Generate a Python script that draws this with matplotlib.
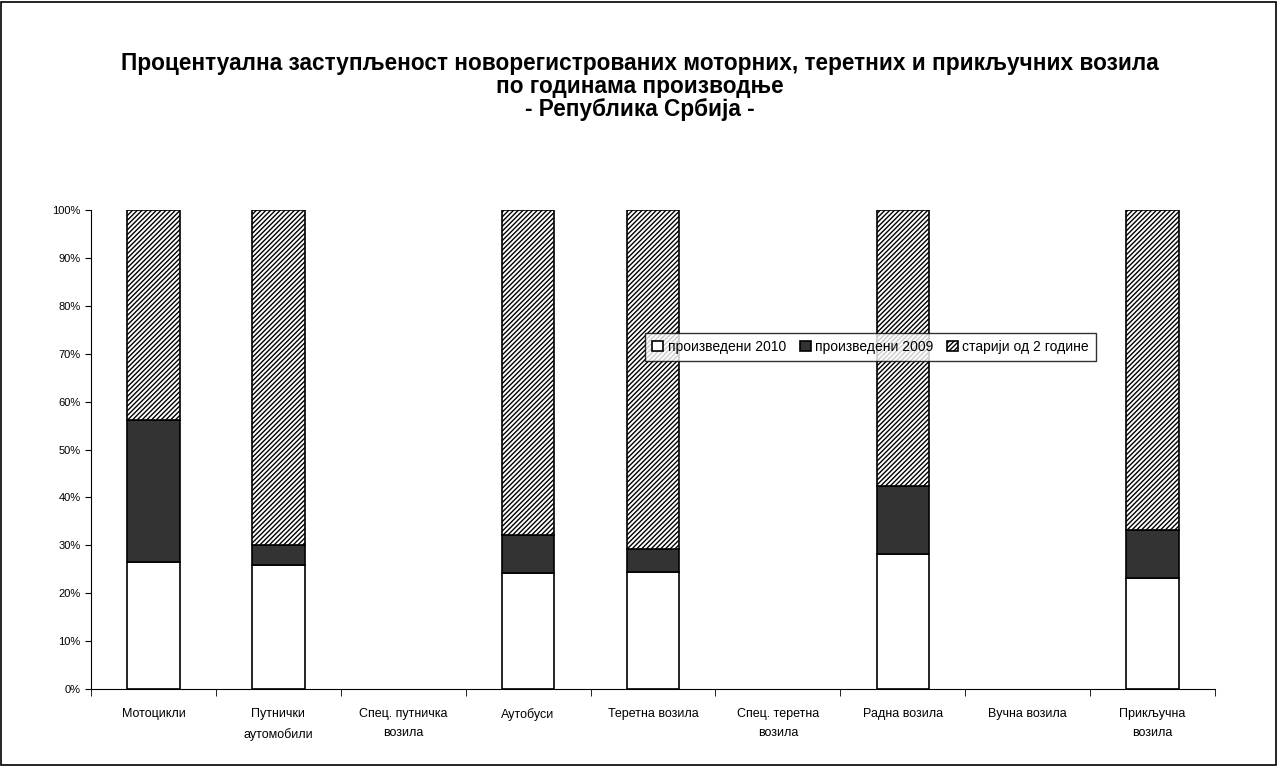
#!/usr/bin/env python3

"""
plot.py
"""

import numpy as np
from matplotlib import pyplot as plt
from matplotlib.patches import Rectangle
from matplotlib.ticker import FixedLocator, PercentFormatter

plt.rcParams['font.family'] = ['Liberation Sans', 'DejaVu Sans']
plt.rcParams['hatch.linewidth'] = 1.0

categories = ['Мотоцикли', 'Путнички\nаутомобили', 'Спец. путничка\nвозила',
              'Аутобуси', 'Теретна возила', 'Спец. теретна\nвозила',
              'Радна возила', 'Вучна возила', 'Прикључна\nвозила']
made_2010 = [26.5, 25.9, 0, 24.2, 24.4, 0, 28.2, 0, 23.2]
made_2009 = [29.7, 4.2, 0, 8.0, 4.8, 0, 14.2, 0, 10.0]
older = [43.8, 69.9, 0, 67.8, 70.8, 0, 57.6, 0, 66.8]
series_names = ['произведени 2010', 'произведени 2009', 'старији од 2 године']

fig = plt.figure(figsize=(12.79, 7.67), dpi=100)
ax = fig.add_axes([0.0711, 0.1017, 0.8789, 0.6245])

x = np.arange(len(categories))
w = 0.42
b1 = ax.bar(x, made_2010, w, color='white', edgecolor='black', linewidth=1.2)
b2 = ax.bar(x, made_2009, w, bottom=made_2010, color='#333333',
            edgecolor='black', linewidth=1.2)
bottom3 = np.array(made_2010) + np.array(made_2009)
b3 = ax.bar(x, older, w, bottom=bottom3, color='white', edgecolor='black',
            hatch='///////', linewidth=1.2)
# hide empty categories
for bars in (b1, b2, b3):
  for rect, h in zip(bars, bars.datavalues):
    if h == 0:
      rect.set_visible(False)

ax.set_xlim(-0.5, len(categories) - 0.5)
ax.set_ylim(0, 100)
ax.yaxis.set_major_locator(FixedLocator(np.arange(0, 101, 10)))
ax.yaxis.set_major_formatter(PercentFormatter(decimals=0))
ax.set_xticks(x)
ax.set_xticklabels(categories, fontsize=9, linespacing=1.75)
ax.tick_params(axis='x', length=0, pad=14)
ax.xaxis.set_minor_locator(FixedLocator(np.arange(-0.5, len(categories), 1)))
ax.tick_params(axis='x', which='minor', length=5, direction='out')
ax.tick_params(axis='y', labelsize=8, length=4, direction='out')
for s in ('top', 'right'):
  ax.spines[s].set_visible(False)

leg = ax.legend([b1, b2, b3], series_names, ncol=3, loc='upper left',
                bbox_to_anchor=(0.487, 0.758), fontsize=10, frameon=True,
                fancybox=False, edgecolor='black', handlelength=0.8,
                handleheight=0.8, handletextpad=0.3, columnspacing=1.0,
                borderpad=0.5)
leg.get_frame().set_linewidth(1.0)

fig.text(0.5, 0.887, 'Процентуална заступљеност новорегистрованих моторних, '
         'теретних и прикључних возила\nпо годинама производње\n'
         '- Република Србија -', ha='center', va='center', fontsize=16.3,
         fontweight='bold', linespacing=1.0)

fig.patches.append(Rectangle((0.001, 0.002), 0.997, 0.996,
                             transform=fig.transFigure, fill=False,
                             edgecolor='black', linewidth=1.2))

fig.savefig('out.png', dpi=100)
